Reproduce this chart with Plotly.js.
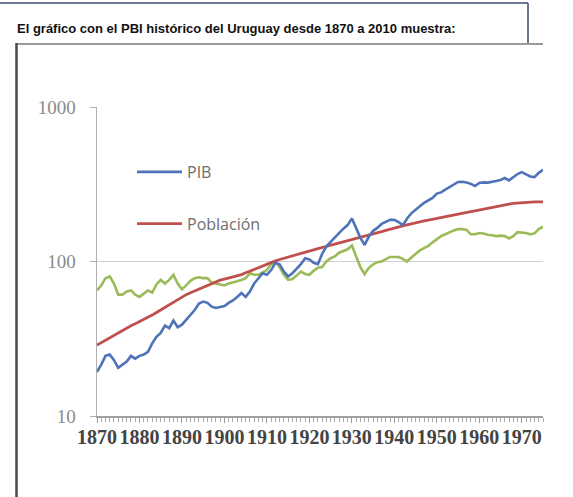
<!DOCTYPE html>
<html>
<head>
<meta charset="utf-8">
<script src="https://cdn.plot.ly/plotly-3.0.1.min.js"></script>
<style>
html,body{margin:0;padding:0;background:#fff;}
#chart{width:573px;height:497px;}
</style>
</head>
<body>
<div id="chart"></div>
<script>
// ---- data ----
var startYear = 1870;
var tickYears = [1870,1880,1890,1900,1910,1920,1930,1940,1950,1960,1970];
var yTickVals = [10,100,1000];
var yTickText = ["10","100","1000"];

var pib = [
 19.3,21.5,24.5,25,23,20.5,21.5,22.5,24.5,23.5,
 24.5,25,26,29.5,32.5,34.5,38.5,37,41.5,37.5,
 39,42,45,48.5,53.5,55,54,51,50,50.5,
 51.5,54,56,59,62.5,59,64,72,78,84,
 82,88,98,96,86,80,84,90,96,105,
 103,98,96,112,125,134,143,155,163,172,
 190,165,142,128,145,158,165,175,180,186,
 186,180,172,190,205,215,228,240,250,258,
 275,280,292,303,315,327,328,325,318,308,
 322,325,324,327,332,337,347,335,350,368,
 379,365,355,352,375,392
];
var poblacion = [
 28.8,29.9,31.0,32.2,33.4,34.7,36.0,37.2,38.4,39.6,
 40.8,42.0,43.3,45.0,46.8,48.6,50.4,52.2,54.5,56.8,
 59.0,61.0,62.8,64.6,66.4,68.2,70.2,72.2,74.1,75.8,
 77.0,78.2,79.5,80.8,82.2,84.5,86.8,89.2,91.6,94.0,
 96.5,99.0,101,103,105,107,109,111,113,115,
 117,119,121,123,125,127.5,129.5,131.5,133.5,135.5,
 138,140,142.5,145,147.5,150,153,156,159,162,
 165,167.5,170,172.5,175.5,178,180.5,183,185.5,188,
 190.5,193,195.5,197.5,200,202,204.5,207.5,210,212.5,
 215.5,218.5,221.5,224.5,227.5,230.5,233,235.5,237.5,239,
 240.5,241.5,242.5,243,243.5,243.5
];
var pibPerCapita = [
 65,70,78,80,72,61,61,64,65,61,
 59,62,65,63,71,76,72,76,82,72,
 66,70,75,78,79,78,78,73,72,71,
 70,72,73,74.5,76,78,84,82,82,85,
 88,96,100,92,82,76,77,81,86,83,
 82,87,91,92,100,105,108,114,117,120,
 127,108,92,83,91,96,99,100,103,107,
 107,107,104,100,106,112,118,122,126,133,
 140,146,150,155,159,162,162,160,150,150,
 153,152,149,148,146,147,146,141,146,155,
 154,153,150,152,162,168
];
var years = [];
for (var i = 0; i < pib.length; i++) years.push(startYear + i);

// ---- geometry helpers (page pixels -> paper coords) ----
var W = 573, H = 497;
var M = {l:97, r:30, t:107, b:81};
var pw = W - M.l - M.r, ph = H - M.t - M.b;
function px(x){ return (x - M.l) / pw; }
function py(y){ return (H - M.b - y) / ph; }

var traces = [
 {x: years, y: pibPerCapita, name: "PIB per cápita", type: "scatter", mode: "lines",
  line: {color: "#9bbb59", width: 2.6}, showlegend: false},
 {x: years, y: poblacion, name: "Población", type: "scatter", mode: "lines",
  line: {color: "#c0504d", width: 2.8}, legendgroup: "b", legendrank: 2},
 {x: years, y: pib, name: "PIB", type: "scatter", mode: "lines",
  line: {color: "#4f73b8", width: 2.6}, legendgroup: "a", legendrank: 1}
];

var layout = {
 width: W, height: H,
 margin: M,
 paper_bgcolor: "#ffffff", plot_bgcolor: "#ffffff",
 title: {
  text: "El gráfico con el PBI histórico del Uruguay desde 1870 a 2010 muestra:",
  font: {family: "Liberation Sans, Arial, sans-serif", size: 13, color: "#111111", weight: "bold"},
  xref: "container", yref: "container", x: 17/W, xanchor: "left",
  y: 1 - 28/H, yanchor: "middle"
 },
 xaxis: {
  type: "linear", range: [1870, 1975], fixedrange: true,
  tickmode: "array", tickvals: tickYears, ticktext: tickYears.map(String),
  ticks: "outside", ticklen: 5, tickcolor: "#9a9a9a", tickwidth: 1,
  minor: {dtick: 1, tick0: 1870, ticks: "outside", ticklen: 4, tickcolor: "#a8a8a8", showgrid: false},
  showline: true, linecolor: "#a0a0a0", linewidth: 1.5,
  showgrid: false, zeroline: false,
  tickfont: {family: "Liberation Serif, serif", size: 20, color: "#444444", weight: "bold"},
  ticklabelstandoff: -3
 },
 yaxis: {
  type: "log", range: [1, 3], fixedrange: true,
  tickmode: "array", tickvals: yTickVals, ticktext: yTickText,
  ticks: "outside", ticklen: 6, tickcolor: "#b0b0b0",
  showline: true, linecolor: "#b0b0b0", linewidth: 1.5,
  showgrid: true, gridcolor: "#cfcfcf", gridwidth: 1.5, zeroline: false,
  tickfont: {family: "Liberation Serif, serif", size: 19, color: "#8a8a8a"},
  ticklabelstandoff: 10
 },
 showlegend: true,
 legend: {
  x: px(132), y: py(155), xanchor: "left", yanchor: "top",
  orientation: "v", traceorder: "grouped", tracegroupgap: 28,
  itemwidth: 45,
  bgcolor: "rgba(0,0,0,0)", borderwidth: 0,
  font: {family: "Open Sans, sans-serif", size: 16, color: "#6e6e6e"}
 },
 shapes: [
  {type: "line", xref: "paper", yref: "paper", x0: px(0), x1: px(528), y0: py(3), y1: py(3),
   line: {color: "#3d4a6e", width: 1.5}},
  {type: "line", xref: "paper", yref: "paper", x0: px(528), x1: px(528), y0: py(3), y1: py(43),
   line: {color: "#3d4a6e", width: 1.5}},
  {type: "line", xref: "paper", yref: "paper", x0: px(16), x1: px(543), y0: py(44), y1: py(44),
   line: {color: "#9a9a9a", width: 2}},
  {type: "line", xref: "paper", yref: "paper", x0: px(16.5), x1: px(16.5), y0: py(43), y1: py(497),
   line: {color: "#4a4a4a", width: 2.5}}
 ]
};

Plotly.newPlot("chart", traces, layout, {displayModeBar: false, staticPlot: true});
</script>
</body>
</html>
